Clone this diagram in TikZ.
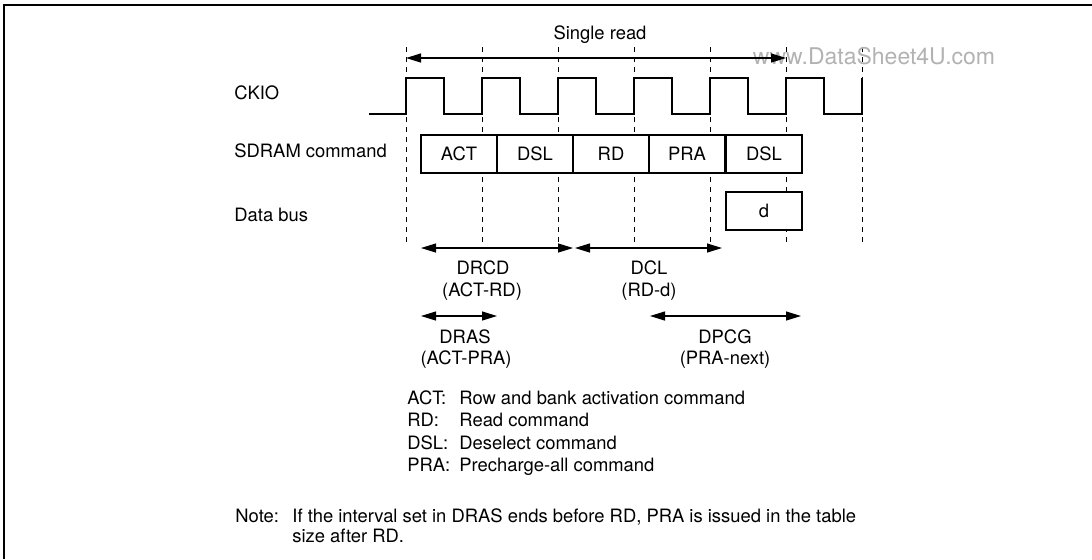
\documentclass[tikz,border=0pt]{standalone}
\usepackage{fontspec}
\setmainfont{TeX Gyre Heros}
\usetikzlibrary{arrows.meta}

\tikzset{
  cmdbox/.style={draw, fill=white, line width=1pt, minimum width=38pt, minimum height=19pt, inner sep=0pt, text height=6.6pt, text depth=0pt},
  guide/.style={dash pattern=on 2.5pt off 2.5pt, line width=0.5pt},
  span/.style={{Triangle[length=7.5pt,width=4.5pt]}-{Triangle[length=7.5pt,width=4.5pt]}, line width=0.6pt},
  lbl/.style={inner sep=0pt, text height=6.6pt, text depth=0pt}
}

\begin{document}
\begin{tikzpicture}[x=0.5pt, y=-0.5pt, font=\fontsize{9.2}{11}\selectfont]
    \useasboundingbox (0,0) rectangle (1092,559);

    % frame
    \draw[line width=1pt] (4,559) -- (4,5) -- (1092,5);

    % clock edge guides
    \foreach \x in {406,482,...,862}
        \draw[guide] (\x,47) -- (\x,243);

    % watermark
    \node[lbl, text=black!30, font=\fontsize{11.5}{13}\selectfont] (wm) at (874,58) {www.DataSheet4U.com};

    % Single read
    \coordinate (sr-l) at (406,58);
    \coordinate (sr-r) at (786,58);
    \draw[span] (sr-l) -- (sr-r);
    \node[lbl] (srlbl) at (600,33) {Single read};

    % signal names
    \node[lbl, anchor=west] (ckio) at (234,93) {CKIO};
    \node[lbl, anchor=west] (cmd) at (234,151) {SDRAM command};
    \node[lbl, anchor=west] (dbus) at (234,215) {Data bus};

    % CKIO waveform
    \draw[line width=1.1pt] (369,114) -- (406,114)
        \foreach \i in {1,...,6} { -- ++(0,-36) -- ++(38,0) -- ++(0,36) -- ++(38,0) }
        -- ++(0,-36);

    % SDRAM commands
    \node[cmdbox] (act) at (459,154) {ACT};
    \node[cmdbox] (dsl1) at (535,154) {DSL};
    \node[cmdbox] (rd) at (611,154) {RD};
    \node[cmdbox] (pra) at (687,154) {PRA};
    \node[cmdbox] (dsl2) at (764,154) {DSL};

    % Data bus
    \node[cmdbox] (dat) at (764,211) {d};

    % timing parameters
    \coordinate (drcd-l) at (421,248);
    \coordinate (drcd-r) at (573,248);
    \coordinate (dcl-l) at (575,248);
    \coordinate (dcl-r) at (722,248);
    \coordinate (dras-l) at (421,316);
    \coordinate (dras-r) at (497,316);
    \coordinate (dpcg-l) at (650,316);
    \coordinate (dpcg-r) at (801,316);
    \draw[span] (drcd-l) -- (drcd-r);
    \draw[span] (dcl-l) -- (dcl-r);
    \draw[span] (dras-l) -- (dras-r);
    \draw[span] (dpcg-l) -- (dpcg-r);

    \node[lbl] (drcd) at (483,268) {DRCD};
    \node[lbl] (drcd2) at (482,290) {(ACT-RD)};
    \node[lbl] (dcl) at (649,268) {DCL};
    \node[lbl] (dcl2) at (649,290) {(RD-d)};
    \node[lbl] (dras) at (465,337) {DRAS};
    \node[lbl] (dras2) at (466,358) {(ACT-PRA)};
    \node[lbl] (dpcg) at (725,337) {DPCG};
    \node[lbl] (dpcg2) at (725,358) {(PRA-next)};

    % legend
    \foreach \k/\t [count=\i] in {ACT/Row and bank activation command, RD/Read command, DSL/Deselect command, PRA/Precharge-all command} {
        \node[lbl, anchor=west] (key\i) at (407,375+22.5*\i) {\k:};
        \node[lbl, anchor=west] (txt\i) at (459,375+22.5*\i) {\t};
    }

    % note
    \node[lbl, anchor=west] (note) at (235,516) {Note:};
    \node[lbl, anchor=west] (note1) at (292,516) {If the interval set in DRAS ends before RD, PRA is issued in the table};
    \node[lbl, anchor=west] (note2) at (292,536) {size after RD.};
\end{tikzpicture}
\end{document}
